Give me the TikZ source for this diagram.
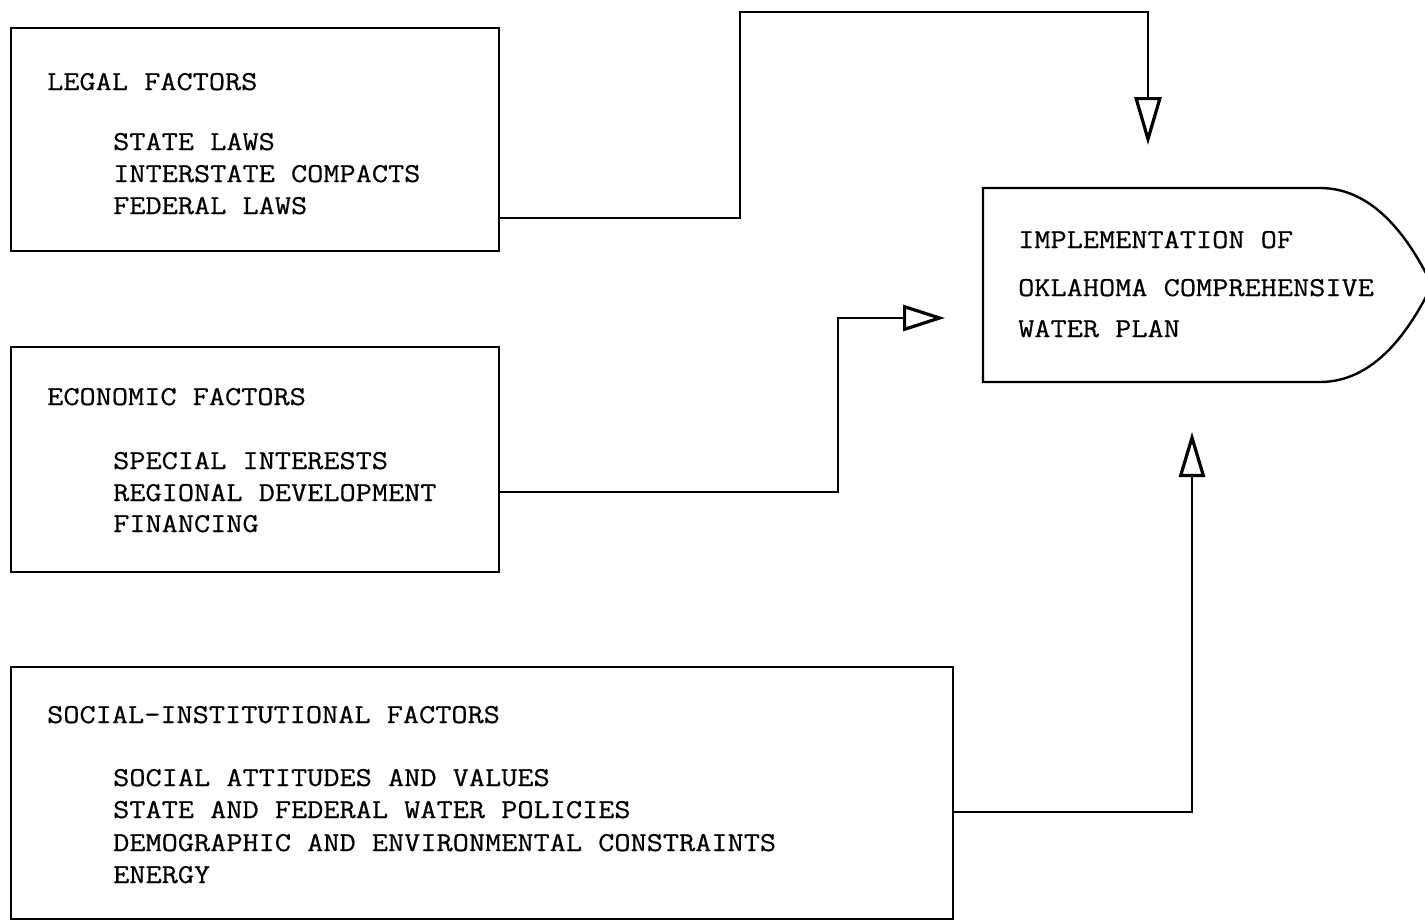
\documentclass[tikz,border=0pt]{standalone}
\usepackage{fontspec}
\setmonofont{Latin Modern Mono}[FakeStretch=1.15, FakeBold=0.6]
\usetikzlibrary{arrows.meta}
\tikzset{
  box/.style={draw, line width=1.8pt, rectangle, inner sep=0pt, anchor=north west},
  txt/.style={font=\ttfamily\fontsize{27.3}{30}\selectfont, anchor=base west, inner sep=0pt},
  conn/.style={line width=2.1pt},
  tridown/.style={-{Triangle[open, length=48pt, width=27pt, line width=3.2pt]}},
  triright/.style={-{Triangle[open, length=42pt, width=26pt, line width=3.2pt]}},
  triup/.style={-{Triangle[open, length=45pt, width=26pt, line width=3.2pt]}}
}
\begin{document}
\begin{tikzpicture}[x=1pt,y=-1pt]
\useasboundingbox (0,0) rectangle (1425,921);
% boxes
\node[box, minimum width=488pt, minimum height=223pt] (legal) at (10,27) {};
\node[box, minimum width=488pt, minimum height=225pt] (econ) at (10,346) {};
\node[box, minimum width=942pt, minimum height=252pt] (social) at (10,666) {};
% implementation shape
\draw[line width=2.4pt] (983,188) -- (983,382) -- (1320,382)
  .. controls (1375,382) and (1410,330) .. (1432,285)
  .. controls (1410,240) and (1375,188) .. (1320,188) -- cycle;
% texts
\node[txt] (lh) at (47,90) {LEGAL FACTORS};
\node[txt] (l1) at (113,150) {STATE LAWS};
\node[txt] (l2) at (113,182) {INTERSTATE COMPACTS};
\node[txt] (l3) at (113,214) {FEDERAL LAWS};
\node[txt] (eh) at (47,405) {ECONOMIC FACTORS};
\node[txt] (e1) at (113,469) {SPECIAL INTERESTS};
\node[txt] (e2) at (113,501) {REGIONAL DEVELOPMENT};
\node[txt] (e3) at (113,532) {FINANCING};
\node[txt] (sh) at (47,723) {SOCIAL-INSTITUTIONAL FACTORS};
\node[txt] (s1) at (113,786) {SOCIAL ATTITUDES AND VALUES};
\node[txt] (s2) at (113,818) {STATE AND FEDERAL WATER POLICIES};
\node[txt] (s3) at (113,851) {DEMOGRAPHIC AND ENVIRONMENTAL CONSTRAINTS};
\node[txt] (s4) at (113,883) {ENERGY};
\node[txt] (i1) at (1018,248) {IMPLEMENTATION OF};
\node[txt] (i2) at (1018,296) {OKLAHOMA COMPREHENSIVE};
\node[txt] (i3) at (1018,337) {WATER PLAN};
% connector endpoints
\coordinate (lout) at (legal.east |- 0,218);
\coordinate (ltip) at (1148,145);
\coordinate (eout) at (econ.east |- 0,492);
\coordinate (etip) at (945,318);
\coordinate (sout) at (social.east |- 0,812);
\coordinate (stip) at (1192,432);
% connectors
\draw[conn, tridown] (lout) -| (740,12) -| (ltip);
\draw[conn, triright] (eout) -| (838,318) -- (etip);
\draw[conn, triup] (sout) -| (stip);
\end{tikzpicture}
\end{document}
